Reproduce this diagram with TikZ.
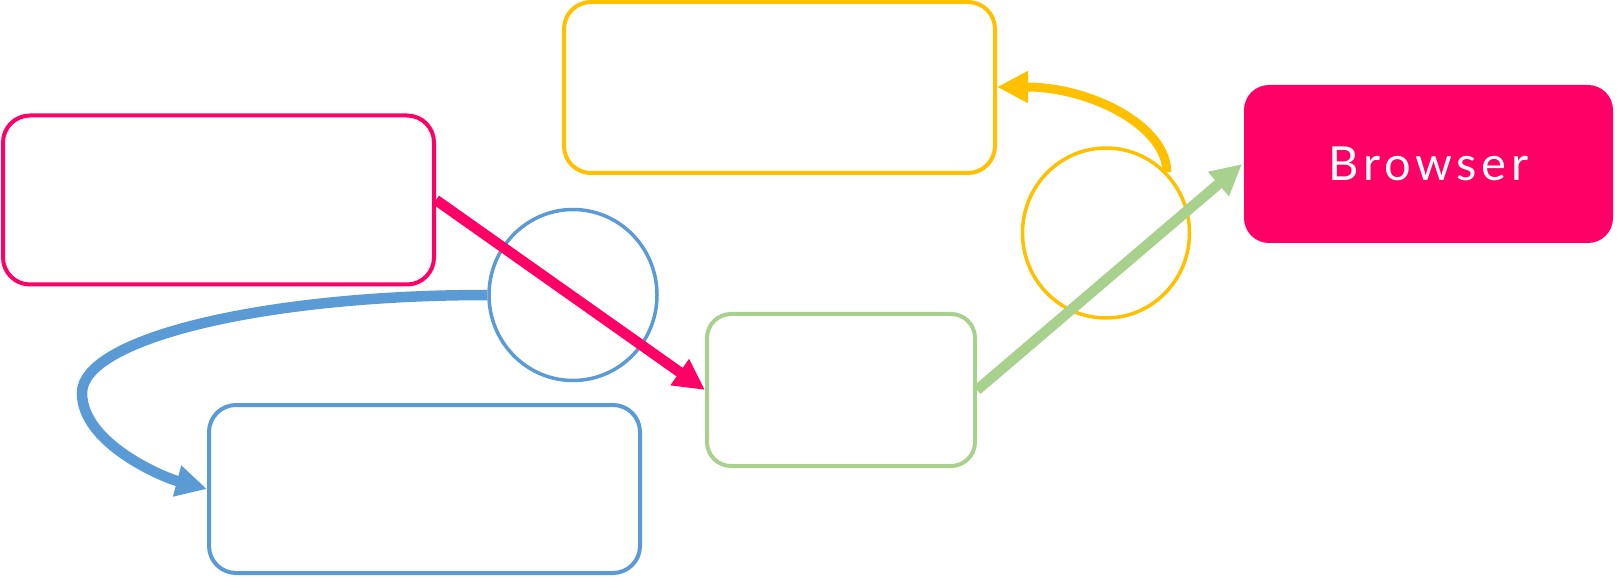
\documentclass[tikz,border=0pt]{standalone}
\usepackage{fontspec}
\newfontfamily\letrero[LetterSpace=10]{Lato}
\usetikzlibrary{arrows.meta,positioning,shapes.geometric}
\definecolor{rosaW}{HTML}{FF0066}
\definecolor{oroW}{HTML}{FFC000}
\definecolor{azulW}{HTML}{5B9BD5}
\definecolor{verdeW}{HTML}{A9D18E}

\begin{document}
\begin{tikzpicture}[x=1pt, y=-1pt,
    caja/.style={draw, rounded corners=27pt, line width=4pt, inner sep=0pt},
    anillo/.style={draw, ellipse, line width=3.5pt, inner sep=0pt},
    flecha/.style={line width=10.5pt, -{Triangle[length=31pt,width=30pt]}}
  ]
  \useasboundingbox (0,0) rectangle (1617,577);

  % cajas
  \node[caja, draw=rosaW, minimum width=431pt, minimum height=169pt] (fuente) at (218.5,200) {};
  \node[caja, draw=oroW, minimum width=431pt, minimum height=171pt] (cache) at (779.5,87.5) {};
  \node[caja, draw=azulW, minimum width=431pt, minimum height=168pt] (salida) at (424.5,489) {};
  \node[caja, draw=verdeW, minimum width=268pt, minimum height=152pt, rounded corners=24pt] (medio) at (841,390) {};
  \node[caja, draw=none, fill=rosaW, minimum width=369pt, minimum height=158pt, rounded corners=25pt,
        text=white, font=\letrero\fontsize{47}{50}\selectfont] (browser) at (1428.5,164) {Browser};

  % anillos
  \node[anillo, draw=azulW, minimum width=168pt, minimum height=171pt] (anilloA) at (573,295) {};
  \node[anillo, draw=oroW, minimum width=167pt, minimum height=170pt] (anilloO) at (1106,233) {};
  \coordinate (codo) at (82,393);

  % flechas
  \draw[flecha, rosaW] (fuente.east) -- (medio.west);
  \draw[flecha, verdeW] (medio.east) -- (browser.west);
  \draw[flecha, azulW] (anilloA.west) .. controls +(-225,0) and +(0,-54) .. (codo)
    .. controls +(0,50) and +(-45,-12) .. (salida.west);
  \draw[flecha, oroW, line width=9pt] (anilloO.45) .. controls +(0,-46) and +(94,0) .. (cache.east |- 0,87);
\end{tikzpicture}
\end{document}
